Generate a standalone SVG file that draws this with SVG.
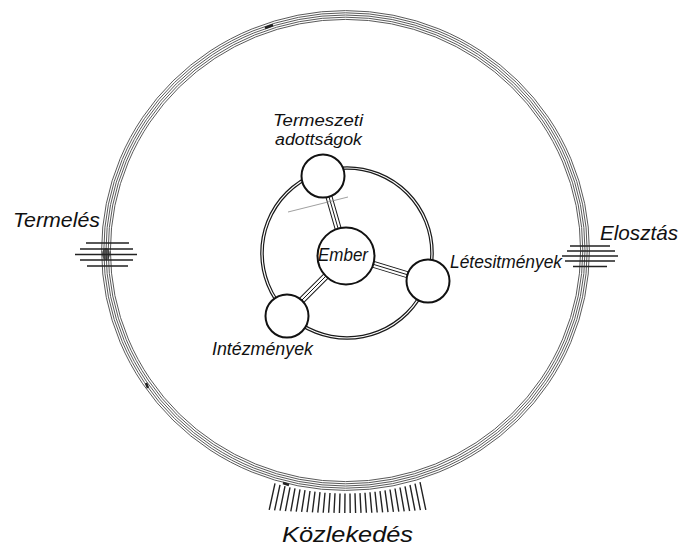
<svg xmlns="http://www.w3.org/2000/svg" width="685" height="548" viewBox="0 0 685 548">
<style>
.ring{fill:none;stroke:#5a5a5a;stroke-width:1}
.lbl{font-family:"Liberation Sans",Arial,sans-serif;font-style:italic;fill:#111}
.node{fill:#fff;stroke:#111;stroke-width:2}
.hatch{stroke:#222;stroke-width:1.4;fill:none}
</style>
<rect width="685" height="548" fill="#fff"/>
<g id="outer-ring">
<ellipse class="ring" cx="345.5" cy="250.5" rx="235.1" ry="231.1"/>
<ellipse class="ring" cx="345.5" cy="250.5" rx="237.3" ry="233.3"/>
<ellipse class="ring" cx="345.5" cy="250.5" rx="239.5" ry="235.5"/>
<ellipse class="ring" cx="345.5" cy="250.5" rx="241.7" ry="237.7"/>
<ellipse class="ring" cx="345.5" cy="250.5" rx="243.9" ry="239.9"/>
<path d="M265 28 l8 -3 M283 483 l6 2 M146 383 l2 5" stroke="#222" stroke-width="2.5" fill="none"/>
</g>
<g id="termeles">
<path class="hatch" d="M86 243H129M80 249H133M75 254.5H137M80 260H133M87 266H128"/>
<ellipse cx="106" cy="254" rx="4" ry="6" fill="#222" opacity="0.7"/>
<text class="lbl" x="13" y="227" font-size="21" textLength="87" lengthAdjust="spacingAndGlyphs">Termelés</text>
</g>
<g id="elosztas">
<path class="hatch" d="M570 246H610M567 251H615M562 256H618M565 261H615M573 266.5H607"/>
<text class="lbl" x="600" y="239.5" font-size="21" textLength="78" lengthAdjust="spacingAndGlyphs">Elosztás</text>
</g>
<g id="kozlekedes">
<path class="hatch" d="M275 483.4L269.2 509.9M280 484.8L274.6 510.3M285 486.1L280 510.7M290 487.3L285.4 511.1M295 488.3L290.8 511.4M300 489.3L296.2 511.7M305 490.2L301.6 511.9M310 491L307 512.2M315 491.6L312.4 512.4M320 492.2L317.8 512.6M325 492.7L323.2 512.7M330 493L328.6 512.8M335 493.3L334 512.9M340 493.4L339.4 513M345 493.5L344.8 513M350 493.5L350.2 513M355 493.3L355.6 513M360 493.1L361 512.9M365 492.7L366.4 512.8M370 492.3L371.8 512.7M375 491.8L377.2 512.5M380 491.1L382.6 512.3M385 490.4L388 512.1M390 489.5L393.4 511.9M395 488.5L398.8 511.6M400 487.5L404.2 511.3M405 486.3L409.6 511M410 485L415 510.6M415 483.6L420.4 510.2M420 482.2L425.8 509.8"/>
<text class="lbl" x="282" y="542" font-size="22" textLength="131" lengthAdjust="spacingAndGlyphs">Közlekedés</text>
</g>
<g id="connectors">
<circle cx="347" cy="253" r="85" fill="none" stroke="#1a1a1a" stroke-width="3.6"/>
<circle cx="347" cy="253" r="85" fill="none" stroke="#fff" stroke-width="1.2"/>
<g stroke-linecap="butt">
<path d="M346 256L323 176M346 256L428 281M346 256L287 315" stroke="#1a1a1a" stroke-width="7" fill="none"/>
<path d="M346 256L323 176M346 256L428 281M346 256L287 315" stroke="#fff" stroke-width="5" fill="none"/>
<path d="M346 256L323 176M346 256L428 281M346 256L287 315" stroke="#1a1a1a" stroke-width="1" fill="none"/>
</g>
</g>
<g id="ember">
<circle class="node" cx="346" cy="256" r="28.5"/>
<text class="lbl" x="343" y="261" font-size="19" text-anchor="middle" textLength="50" lengthAdjust="spacingAndGlyphs">Ember</text>
</g>
<g id="termeszeti-adottsagok">
<circle class="node" cx="323" cy="176" r="21.5"/>
<text class="lbl" x="273" y="126" font-size="16" textLength="90" lengthAdjust="spacingAndGlyphs">Termeszeti</text>
<text class="lbl" x="275" y="145" font-size="16" textLength="87" lengthAdjust="spacingAndGlyphs">adottságok</text>
</g>
<g id="letesitmenyek">
<circle class="node" cx="428" cy="281" r="21.5"/>
<text class="lbl" x="450" y="268" font-size="19" textLength="112" lengthAdjust="spacingAndGlyphs">Létesitmények</text>
</g>
<g id="intezmenyek">
<circle class="node" cx="287" cy="316" r="21.5"/>
<text class="lbl" x="212" y="355" font-size="19" textLength="101" lengthAdjust="spacingAndGlyphs">Intézmények</text>
</g>
<line x1="288" y1="212" x2="348" y2="197" stroke="#888" stroke-width="0.8"/>
</svg>
